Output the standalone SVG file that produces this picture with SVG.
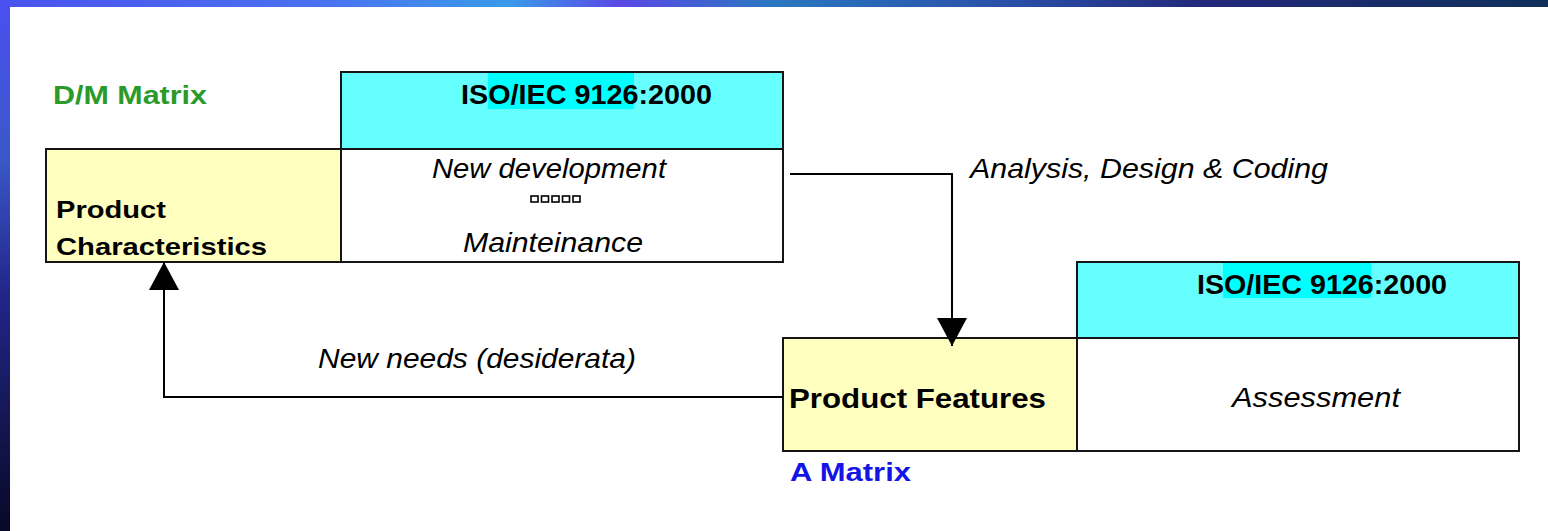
<svg xmlns="http://www.w3.org/2000/svg" width="1548" height="531" viewBox="0 0 1548 531">
  <defs>
    <linearGradient id="topBand" x1="0" y1="0" x2="1" y2="0">
      <stop offset="0" stop-color="#4a52ee"/>
      <stop offset="0.2" stop-color="#4a70f0"/>
      <stop offset="0.33" stop-color="#3a9ae8"/>
      <stop offset="0.4" stop-color="#5a48e6"/>
      <stop offset="0.5" stop-color="#2a78c0"/>
      <stop offset="0.65" stop-color="#2a50a8"/>
      <stop offset="0.78" stop-color="#22287a"/>
      <stop offset="1" stop-color="#10305a"/>
    </linearGradient>
    <linearGradient id="sideBand" x1="0" y1="0" x2="0" y2="1">
      <stop offset="0" stop-color="#4a50f0"/>
      <stop offset="0.3" stop-color="#3a58c8"/>
      <stop offset="0.55" stop-color="#22268a"/>
      <stop offset="0.8" stop-color="#141650"/>
      <stop offset="1" stop-color="#080828"/>
    </linearGradient>
    <marker id="arrow" viewBox="0 0 28 30" refX="28" refY="15" markerWidth="28" markerHeight="30" markerUnits="userSpaceOnUse" orient="auto">
      <path d="M0,0 L28,15 L0,30 z" fill="#000"/>
    </marker>
    <style>
      .cell { stroke: #151515; stroke-width: 2; }
      .head { fill: #66ffff; }
      .mark { fill: #00ffff; }
      .key { fill: #ffffc0; }
      .body { fill: #ffffff; }
      .bold { font-family: "Liberation Sans", Arial, sans-serif; font-weight: bold; fill: #000; }
      .ital { font-family: "Liberation Sans", Arial, sans-serif; font-style: italic; fill: #000; }
      .link { fill: none; stroke: #000; stroke-width: 2; }
    </style>
  </defs>

  <!-- page with framing bands -->
  <rect x="0" y="0" width="1548" height="531" fill="#ffffff"/>
  <rect x="0" y="0" width="1548" height="7" fill="url(#topBand)"/>
  <rect x="0" y="0" width="10" height="531" fill="url(#sideBand)"/>

  <!-- D/M matrix -->
  <g id="dm-matrix">
    <text class="bold" x="53" y="104" font-size="25" fill="#2a9a2a" style="fill:#2a9a2a" textLength="154" lengthAdjust="spacingAndGlyphs">D/M Matrix</text>
    <rect class="cell head" x="341" y="72" width="442" height="77"/>
    <rect class="mark" x="488" y="73" width="146" height="36"/>
    <text class="bold" x="461" y="104" font-size="28" textLength="251" lengthAdjust="spacingAndGlyphs">ISO/IEC 9126:2000</text>
    <rect class="cell key" x="46" y="149" width="295" height="113"/>
    <text class="bold" x="56" y="218" font-size="24" textLength="110" lengthAdjust="spacingAndGlyphs">Product</text>
    <text class="bold" x="56" y="255" font-size="24" textLength="211" lengthAdjust="spacingAndGlyphs">Characteristics</text>
    <rect class="cell body" x="341" y="149" width="442" height="113"/>
    <text class="ital" x="432" y="178" font-size="28" textLength="234" lengthAdjust="spacingAndGlyphs">New development</text>
    <g fill="none" stroke="#000" stroke-width="1.6">
      <rect x="531" y="196" width="7" height="6"/>
      <rect x="541.5" y="196" width="7" height="6"/>
      <rect x="552" y="196" width="7" height="6"/>
      <rect x="562.5" y="196" width="7" height="6"/>
      <rect x="573" y="196" width="7" height="6"/>
    </g>
    <text class="ital" x="463" y="252" font-size="28" textLength="180" lengthAdjust="spacingAndGlyphs">Mainteinance</text>
  </g>

  <!-- A matrix -->
  <g id="a-matrix">
    <rect class="cell head" x="1077" y="262" width="442" height="76"/>
    <rect class="mark" x="1223" y="263" width="148" height="35"/>
    <text class="bold" x="1197" y="294" font-size="28" textLength="250" lengthAdjust="spacingAndGlyphs">ISO/IEC 9126:2000</text>
    <rect class="cell key" x="783" y="338" width="294" height="113"/>
    <text class="bold" x="789" y="408" font-size="28" textLength="257" lengthAdjust="spacingAndGlyphs">Product Features</text>
    <rect class="cell body" x="1077" y="338" width="442" height="113"/>
    <text class="ital" x="1232" y="407" font-size="28" textLength="168" lengthAdjust="spacingAndGlyphs">Assessment</text>
    <text class="bold" x="790" y="481" font-size="26" style="fill:#1414e6" textLength="121" lengthAdjust="spacingAndGlyphs">A Matrix</text>
  </g>

  <!-- connectors -->
  <g id="connectors">
    <path class="link" d="M790,174 H952 V346" marker-end="url(#arrow)"/>
    <text class="ital" x="970" y="178" font-size="28" textLength="358" lengthAdjust="spacingAndGlyphs">Analysis, Design &amp; Coding</text>
    <path class="link" d="M783,397 H164 V262" marker-end="url(#arrow)"/>
    <text class="ital" x="318" y="368" font-size="28" textLength="318" lengthAdjust="spacingAndGlyphs">New needs (desiderata)</text>
  </g>
</svg>
